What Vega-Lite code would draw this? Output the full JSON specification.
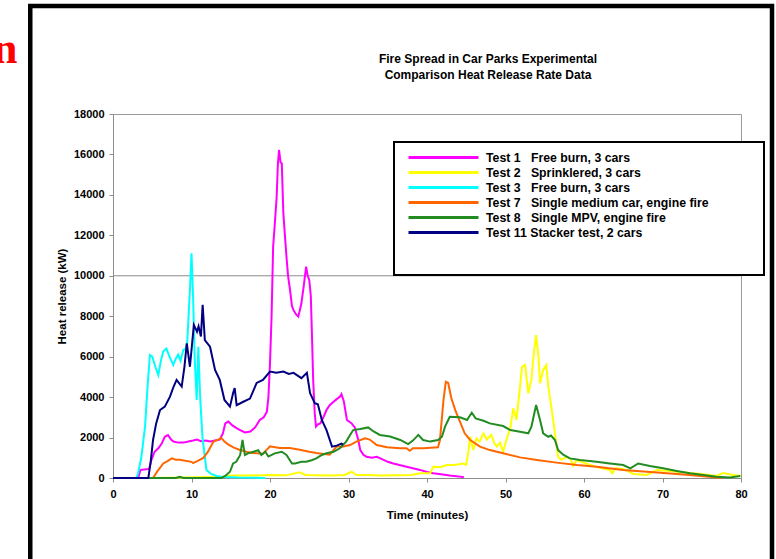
{
  "$schema": "https://vega.github.io/schema/vega-lite/v6.json",
  "width": 628,
  "height": 364,
  "autosize": {"type": "none"},
  "padding": {"left": 113, "top": 114, "right": 35, "bottom": 81},
  "background": "white",
  "config": {
    "font": "Liberation Sans",
    "view": {"stroke": "#9a9a9a", "strokeWidth": 1}
  },
  "title": {
    "text": ["Fire Spread in Car Parks Experimental", "Comparison Heat Release Rate Data"],
    "font": "Liberation Sans",
    "fontSize": 12,
    "fontWeight": "bold",
    "color": "black",
    "lineHeight": 16,
    "anchor": "middle",
    "frame": "group",
    "dx": 61,
    "offset": 0,
    "dy": 78
  },
  "datasets": {
    "hrr": [
      {"test": "Test 1", "t": 0, "v": 0}, {"test": "Test 1", "t": 3.2, "v": 0}, {"test": "Test 1", "t": 3.5, "v": 400}, {"test": "Test 1", "t": 4.6, "v": 450}, {"test": "Test 1", "t": 4.9, "v": 900}, {"test": "Test 1", "t": 5.3, "v": 1300}, {"test": "Test 1", "t": 5.8, "v": 1480}, {"test": "Test 1", "t": 6.2, "v": 1700}, {"test": "Test 1", "t": 6.6, "v": 2040}, {"test": "Test 1", "t": 7.0, "v": 2120}, {"test": "Test 1", "t": 7.4, "v": 1900}, {"test": "Test 1", "t": 7.7, "v": 1800}, {"test": "Test 1", "t": 8.3, "v": 1750}, {"test": "Test 1", "t": 9.0, "v": 1750}, {"test": "Test 1", "t": 9.6, "v": 1800}, {"test": "Test 1", "t": 10.2, "v": 1850}, {"test": "Test 1", "t": 10.7, "v": 1900}, {"test": "Test 1", "t": 11.2, "v": 1820}, {"test": "Test 1", "t": 11.8, "v": 1850}, {"test": "Test 1", "t": 12.4, "v": 1800}, {"test": "Test 1", "t": 13.0, "v": 1850}, {"test": "Test 1", "t": 13.6, "v": 1900}, {"test": "Test 1", "t": 14.0, "v": 2200}, {"test": "Test 1", "t": 14.3, "v": 2700}, {"test": "Test 1", "t": 14.7, "v": 2790}, {"test": "Test 1", "t": 15.2, "v": 2600}, {"test": "Test 1", "t": 15.8, "v": 2450}, {"test": "Test 1", "t": 16.2, "v": 2370}, {"test": "Test 1", "t": 16.8, "v": 2250}, {"test": "Test 1", "t": 17.5, "v": 2300}, {"test": "Test 1", "t": 18.1, "v": 2500}, {"test": "Test 1", "t": 18.7, "v": 2870}, {"test": "Test 1", "t": 19.2, "v": 3000}, {"test": "Test 1", "t": 19.6, "v": 3280}, {"test": "Test 1", "t": 19.8, "v": 4000}, {"test": "Test 1", "t": 20.0, "v": 5670}, {"test": "Test 1", "t": 20.2, "v": 8000}, {"test": "Test 1", "t": 20.4, "v": 11440}, {"test": "Test 1", "t": 20.6, "v": 12500}, {"test": "Test 1", "t": 20.85, "v": 13910}, {"test": "Test 1", "t": 21.0, "v": 15500}, {"test": "Test 1", "t": 21.15, "v": 16220}, {"test": "Test 1", "t": 21.35, "v": 15600}, {"test": "Test 1", "t": 21.5, "v": 15560}, {"test": "Test 1", "t": 21.7, "v": 13100}, {"test": "Test 1", "t": 21.9, "v": 12000}, {"test": "Test 1", "t": 22.1, "v": 10940}, {"test": "Test 1", "t": 22.3, "v": 10000}, {"test": "Test 1", "t": 22.55, "v": 9300}, {"test": "Test 1", "t": 22.8, "v": 8500}, {"test": "Test 1", "t": 23.0, "v": 8300}, {"test": "Test 1", "t": 23.3, "v": 8100}, {"test": "Test 1", "t": 23.6, "v": 7980}, {"test": "Test 1", "t": 23.8, "v": 8300}, {"test": "Test 1", "t": 24.0, "v": 8640}, {"test": "Test 1", "t": 24.3, "v": 9500}, {"test": "Test 1", "t": 24.6, "v": 10450}, {"test": "Test 1", "t": 24.8, "v": 10000}, {"test": "Test 1", "t": 25.0, "v": 9790}, {"test": "Test 1", "t": 25.2, "v": 9000}, {"test": "Test 1", "t": 25.35, "v": 7000}, {"test": "Test 1", "t": 25.5, "v": 4850}, {"test": "Test 1", "t": 25.7, "v": 3200}, {"test": "Test 1", "t": 25.86, "v": 2540}, {"test": "Test 1", "t": 26.1, "v": 2650}, {"test": "Test 1", "t": 26.4, "v": 2700}, {"test": "Test 1", "t": 26.8, "v": 3000}, {"test": "Test 1", "t": 27.2, "v": 3360}, {"test": "Test 1", "t": 27.6, "v": 3600}, {"test": "Test 1", "t": 28.1, "v": 3770}, {"test": "Test 1", "t": 28.5, "v": 3900}, {"test": "Test 1", "t": 28.9, "v": 4020}, {"test": "Test 1", "t": 29.1, "v": 4150}, {"test": "Test 1", "t": 29.4, "v": 3800}, {"test": "Test 1", "t": 29.8, "v": 2870}, {"test": "Test 1", "t": 30.4, "v": 2700}, {"test": "Test 1", "t": 30.8, "v": 2500}, {"test": "Test 1", "t": 31.25, "v": 1880}, {"test": "Test 1", "t": 31.5, "v": 1380}, {"test": "Test 1", "t": 31.9, "v": 1150}, {"test": "Test 1", "t": 32.3, "v": 1050}, {"test": "Test 1", "t": 33.0, "v": 1000}, {"test": "Test 1", "t": 33.6, "v": 1050}, {"test": "Test 1", "t": 34.2, "v": 950}, {"test": "Test 1", "t": 35.0, "v": 800}, {"test": "Test 1", "t": 35.7, "v": 720}, {"test": "Test 1", "t": 36.5, "v": 640}, {"test": "Test 1", "t": 37.4, "v": 560}, {"test": "Test 1", "t": 38.2, "v": 480}, {"test": "Test 1", "t": 39.1, "v": 400}, {"test": "Test 1", "t": 40.0, "v": 300}, {"test": "Test 1", "t": 40.8, "v": 230}, {"test": "Test 1", "t": 41.8, "v": 180}, {"test": "Test 1", "t": 42.9, "v": 120}, {"test": "Test 1", "t": 44.0, "v": 80}, {"test": "Test 1", "t": 44.7, "v": 40},

      {"test": "Test 2", "t": 0, "v": 0}, {"test": "Test 2", "t": 5, "v": 0}, {"test": "Test 2", "t": 9, "v": 20}, {"test": "Test 2", "t": 12, "v": 50}, {"test": "Test 2", "t": 14, "v": 60}, {"test": "Test 2", "t": 15, "v": 120}, {"test": "Test 2", "t": 17, "v": 120}, {"test": "Test 2", "t": 20, "v": 150}, {"test": "Test 2", "t": 22, "v": 130}, {"test": "Test 2", "t": 23.8, "v": 280}, {"test": "Test 2", "t": 24.5, "v": 150}, {"test": "Test 2", "t": 26, "v": 130}, {"test": "Test 2", "t": 28, "v": 120}, {"test": "Test 2", "t": 29.5, "v": 150}, {"test": "Test 2", "t": 30.4, "v": 310}, {"test": "Test 2", "t": 31, "v": 150}, {"test": "Test 2", "t": 32.5, "v": 150}, {"test": "Test 2", "t": 34, "v": 120}, {"test": "Test 2", "t": 36, "v": 130}, {"test": "Test 2", "t": 38, "v": 150}, {"test": "Test 2", "t": 39.1, "v": 230}, {"test": "Test 2", "t": 40.4, "v": 230}, {"test": "Test 2", "t": 40.8, "v": 560}, {"test": "Test 2", "t": 41.7, "v": 530}, {"test": "Test 2", "t": 42.5, "v": 640}, {"test": "Test 2", "t": 43.5, "v": 640}, {"test": "Test 2", "t": 44.6, "v": 720}, {"test": "Test 2", "t": 45.0, "v": 650}, {"test": "Test 2", "t": 45.3, "v": 1380}, {"test": "Test 2", "t": 45.5, "v": 2040}, {"test": "Test 2", "t": 45.9, "v": 1380}, {"test": "Test 2", "t": 46.3, "v": 1960}, {"test": "Test 2", "t": 46.7, "v": 1800}, {"test": "Test 2", "t": 47.2, "v": 2210}, {"test": "Test 2", "t": 47.6, "v": 1900}, {"test": "Test 2", "t": 48.2, "v": 2130}, {"test": "Test 2", "t": 48.6, "v": 1700}, {"test": "Test 2", "t": 48.9, "v": 1550}, {"test": "Test 2", "t": 49.3, "v": 1750}, {"test": "Test 2", "t": 49.7, "v": 1300}, {"test": "Test 2", "t": 50.2, "v": 2000}, {"test": "Test 2", "t": 50.6, "v": 2460}, {"test": "Test 2", "t": 51.0, "v": 3450}, {"test": "Test 2", "t": 51.4, "v": 2870}, {"test": "Test 2", "t": 51.85, "v": 4520}, {"test": "Test 2", "t": 52.1, "v": 5500}, {"test": "Test 2", "t": 52.5, "v": 5590}, {"test": "Test 2", "t": 52.9, "v": 4190}, {"test": "Test 2", "t": 53.3, "v": 4850}, {"test": "Test 2", "t": 53.6, "v": 6160}, {"test": "Test 2", "t": 53.9, "v": 7070}, {"test": "Test 2", "t": 54.2, "v": 6000}, {"test": "Test 2", "t": 54.4, "v": 4680}, {"test": "Test 2", "t": 54.8, "v": 5340}, {"test": "Test 2", "t": 55.2, "v": 5590}, {"test": "Test 2", "t": 55.45, "v": 4520}, {"test": "Test 2", "t": 55.9, "v": 3360}, {"test": "Test 2", "t": 56.3, "v": 2210}, {"test": "Test 2", "t": 56.7, "v": 1050}, {"test": "Test 2", "t": 57.1, "v": 900}, {"test": "Test 2", "t": 57.8, "v": 1050}, {"test": "Test 2", "t": 58.3, "v": 950}, {"test": "Test 2", "t": 58.6, "v": 600}, {"test": "Test 2", "t": 59.1, "v": 890}, {"test": "Test 2", "t": 60.0, "v": 750}, {"test": "Test 2", "t": 60.8, "v": 640}, {"test": "Test 2", "t": 62.0, "v": 500}, {"test": "Test 2", "t": 63.3, "v": 400}, {"test": "Test 2", "t": 63.6, "v": 230}, {"test": "Test 2", "t": 64.0, "v": 480}, {"test": "Test 2", "t": 65.0, "v": 450}, {"test": "Test 2", "t": 66.3, "v": 200}, {"test": "Test 2", "t": 68.0, "v": 150}, {"test": "Test 2", "t": 69.3, "v": 400}, {"test": "Test 2", "t": 71.0, "v": 350}, {"test": "Test 2", "t": 73.5, "v": 250}, {"test": "Test 2", "t": 75.0, "v": 200}, {"test": "Test 2", "t": 76.9, "v": 100}, {"test": "Test 2", "t": 77.7, "v": 250}, {"test": "Test 2", "t": 79.0, "v": 150}, {"test": "Test 2", "t": 80, "v": 100},

      {"test": "Test 3", "t": 0, "v": 0}, {"test": "Test 3", "t": 3.0, "v": 0}, {"test": "Test 3", "t": 3.2, "v": 250}, {"test": "Test 3", "t": 3.6, "v": 1000}, {"test": "Test 3", "t": 4.08, "v": 2540}, {"test": "Test 3", "t": 4.4, "v": 4500}, {"test": "Test 3", "t": 4.7, "v": 6080}, {"test": "Test 3", "t": 5.0, "v": 6000}, {"test": "Test 3", "t": 5.4, "v": 5500}, {"test": "Test 3", "t": 5.77, "v": 5090}, {"test": "Test 3", "t": 6.1, "v": 5800}, {"test": "Test 3", "t": 6.4, "v": 6250}, {"test": "Test 3", "t": 6.8, "v": 6400}, {"test": "Test 3", "t": 7.2, "v": 6000}, {"test": "Test 3", "t": 7.68, "v": 5590}, {"test": "Test 3", "t": 8.0, "v": 5900}, {"test": "Test 3", "t": 8.3, "v": 6100}, {"test": "Test 3", "t": 8.6, "v": 5800}, {"test": "Test 3", "t": 8.96, "v": 6330}, {"test": "Test 3", "t": 9.3, "v": 6400}, {"test": "Test 3", "t": 9.47, "v": 6820}, {"test": "Test 3", "t": 9.8, "v": 9300}, {"test": "Test 3", "t": 10.0, "v": 11110}, {"test": "Test 3", "t": 10.2, "v": 9000}, {"test": "Test 3", "t": 10.4, "v": 6000}, {"test": "Test 3", "t": 10.66, "v": 3860}, {"test": "Test 3", "t": 10.87, "v": 6490}, {"test": "Test 3", "t": 11.1, "v": 4000}, {"test": "Test 3", "t": 11.4, "v": 2000}, {"test": "Test 3", "t": 11.9, "v": 400}, {"test": "Test 3", "t": 12.5, "v": 200}, {"test": "Test 3", "t": 13.2, "v": 100}, {"test": "Test 3", "t": 14, "v": 50}, {"test": "Test 3", "t": 16, "v": 20}, {"test": "Test 3", "t": 19.4, "v": 0},

      {"test": "Test 7", "t": 0, "v": 0}, {"test": "Test 7", "t": 5.1, "v": 0}, {"test": "Test 7", "t": 5.6, "v": 300}, {"test": "Test 7", "t": 6.4, "v": 720}, {"test": "Test 7", "t": 7.0, "v": 850}, {"test": "Test 7", "t": 7.5, "v": 970}, {"test": "Test 7", "t": 8.0, "v": 900}, {"test": "Test 7", "t": 8.5, "v": 900}, {"test": "Test 7", "t": 9.2, "v": 850}, {"test": "Test 7", "t": 10.0, "v": 800}, {"test": "Test 7", "t": 10.2, "v": 740}, {"test": "Test 7", "t": 10.8, "v": 850}, {"test": "Test 7", "t": 11.5, "v": 990}, {"test": "Test 7", "t": 12.1, "v": 1300}, {"test": "Test 7", "t": 12.8, "v": 1800}, {"test": "Test 7", "t": 13.4, "v": 1900}, {"test": "Test 7", "t": 13.8, "v": 1980}, {"test": "Test 7", "t": 14.2, "v": 1800}, {"test": "Test 7", "t": 14.7, "v": 1650}, {"test": "Test 7", "t": 15.4, "v": 1500}, {"test": "Test 7", "t": 16.1, "v": 1400}, {"test": "Test 7", "t": 17.0, "v": 1300}, {"test": "Test 7", "t": 17.8, "v": 1240}, {"test": "Test 7", "t": 19.1, "v": 1200}, {"test": "Test 7", "t": 19.6, "v": 1400}, {"test": "Test 7", "t": 20.0, "v": 1570}, {"test": "Test 7", "t": 21.2, "v": 1480}, {"test": "Test 7", "t": 22.5, "v": 1480}, {"test": "Test 7", "t": 23.8, "v": 1400}, {"test": "Test 7", "t": 25.0, "v": 1300}, {"test": "Test 7", "t": 25.9, "v": 1240}, {"test": "Test 7", "t": 27.6, "v": 1150}, {"test": "Test 7", "t": 28.5, "v": 1570}, {"test": "Test 7", "t": 29.2, "v": 1550}, {"test": "Test 7", "t": 30.2, "v": 1630}, {"test": "Test 7", "t": 31.0, "v": 1800}, {"test": "Test 7", "t": 32.1, "v": 1960}, {"test": "Test 7", "t": 32.7, "v": 1900}, {"test": "Test 7", "t": 33.6, "v": 1630}, {"test": "Test 7", "t": 34.9, "v": 1520}, {"test": "Test 7", "t": 36.5, "v": 1470}, {"test": "Test 7", "t": 37.4, "v": 1470}, {"test": "Test 7", "t": 37.8, "v": 1350}, {"test": "Test 7", "t": 38.2, "v": 1470}, {"test": "Test 7", "t": 39.5, "v": 1470}, {"test": "Test 7", "t": 41.4, "v": 1520}, {"test": "Test 7", "t": 41.65, "v": 1880}, {"test": "Test 7", "t": 42.1, "v": 3860}, {"test": "Test 7", "t": 42.4, "v": 4760}, {"test": "Test 7", "t": 42.7, "v": 4700}, {"test": "Test 7", "t": 43.1, "v": 3940}, {"test": "Test 7", "t": 43.6, "v": 3360}, {"test": "Test 7", "t": 44.2, "v": 2790}, {"test": "Test 7", "t": 44.8, "v": 2210}, {"test": "Test 7", "t": 45.5, "v": 1880}, {"test": "Test 7", "t": 46.75, "v": 1550}, {"test": "Test 7", "t": 48.0, "v": 1380}, {"test": "Test 7", "t": 49.7, "v": 1220}, {"test": "Test 7", "t": 51.85, "v": 1020}, {"test": "Test 7", "t": 54.0, "v": 890}, {"test": "Test 7", "t": 56.5, "v": 760}, {"test": "Test 7", "t": 59.1, "v": 640}, {"test": "Test 7", "t": 61.6, "v": 560}, {"test": "Test 7", "t": 65.0, "v": 400}, {"test": "Test 7", "t": 69.3, "v": 270}, {"test": "Test 7", "t": 73.5, "v": 150}, {"test": "Test 7", "t": 76.5, "v": 40}, {"test": "Test 7", "t": 77.5, "v": 0},

      {"test": "Test 8", "t": 0, "v": 0}, {"test": "Test 8", "t": 8, "v": 0}, {"test": "Test 8", "t": 8.5, "v": 60}, {"test": "Test 8", "t": 9, "v": 0}, {"test": "Test 8", "t": 13.8, "v": 0}, {"test": "Test 8", "t": 14.3, "v": 100}, {"test": "Test 8", "t": 14.9, "v": 310}, {"test": "Test 8", "t": 15.3, "v": 720}, {"test": "Test 8", "t": 15.7, "v": 800}, {"test": "Test 8", "t": 16.2, "v": 1140}, {"test": "Test 8", "t": 16.5, "v": 1880}, {"test": "Test 8", "t": 16.8, "v": 1140}, {"test": "Test 8", "t": 17.2, "v": 1220}, {"test": "Test 8", "t": 17.9, "v": 1300}, {"test": "Test 8", "t": 18.5, "v": 1380}, {"test": "Test 8", "t": 18.9, "v": 1140}, {"test": "Test 8", "t": 19.4, "v": 1300}, {"test": "Test 8", "t": 19.8, "v": 1060}, {"test": "Test 8", "t": 20.6, "v": 1220}, {"test": "Test 8", "t": 21.5, "v": 1300}, {"test": "Test 8", "t": 22.1, "v": 1140}, {"test": "Test 8", "t": 22.8, "v": 720}, {"test": "Test 8", "t": 23.2, "v": 720}, {"test": "Test 8", "t": 24.0, "v": 800}, {"test": "Test 8", "t": 24.6, "v": 800}, {"test": "Test 8", "t": 25.3, "v": 880}, {"test": "Test 8", "t": 25.9, "v": 970}, {"test": "Test 8", "t": 26.6, "v": 1140}, {"test": "Test 8", "t": 27.2, "v": 1220}, {"test": "Test 8", "t": 28.1, "v": 1300}, {"test": "Test 8", "t": 28.9, "v": 1470}, {"test": "Test 8", "t": 29.7, "v": 1800}, {"test": "Test 8", "t": 30.2, "v": 2130}, {"test": "Test 8", "t": 30.6, "v": 2370}, {"test": "Test 8", "t": 31.5, "v": 2420}, {"test": "Test 8", "t": 32.5, "v": 2500}, {"test": "Test 8", "t": 33.2, "v": 2300}, {"test": "Test 8", "t": 34.0, "v": 2130}, {"test": "Test 8", "t": 35.3, "v": 2050}, {"test": "Test 8", "t": 36.6, "v": 1880}, {"test": "Test 8", "t": 37.6, "v": 1680}, {"test": "Test 8", "t": 38.2, "v": 1850}, {"test": "Test 8", "t": 38.9, "v": 2130}, {"test": "Test 8", "t": 39.5, "v": 1880}, {"test": "Test 8", "t": 40.4, "v": 1800}, {"test": "Test 8", "t": 41.4, "v": 1880}, {"test": "Test 8", "t": 41.9, "v": 2040}, {"test": "Test 8", "t": 42.3, "v": 2540}, {"test": "Test 8", "t": 42.9, "v": 3030}, {"test": "Test 8", "t": 44.2, "v": 3000}, {"test": "Test 8", "t": 45.1, "v": 2870}, {"test": "Test 8", "t": 45.7, "v": 3230}, {"test": "Test 8", "t": 46.2, "v": 2950}, {"test": "Test 8", "t": 47.2, "v": 2830}, {"test": "Test 8", "t": 48.0, "v": 2700}, {"test": "Test 8", "t": 49.7, "v": 2570}, {"test": "Test 8", "t": 50.6, "v": 2370}, {"test": "Test 8", "t": 51.85, "v": 2290}, {"test": "Test 8", "t": 52.9, "v": 2210}, {"test": "Test 8", "t": 53.3, "v": 2540}, {"test": "Test 8", "t": 53.9, "v": 3610}, {"test": "Test 8", "t": 54.4, "v": 2870}, {"test": "Test 8", "t": 54.8, "v": 2210}, {"test": "Test 8", "t": 55.45, "v": 2040}, {"test": "Test 8", "t": 55.8, "v": 2100}, {"test": "Test 8", "t": 56.3, "v": 1880}, {"test": "Test 8", "t": 56.7, "v": 1380}, {"test": "Test 8", "t": 57.4, "v": 1140}, {"test": "Test 8", "t": 58.2, "v": 970}, {"test": "Test 8", "t": 59.5, "v": 890}, {"test": "Test 8", "t": 61.6, "v": 800}, {"test": "Test 8", "t": 63.3, "v": 720}, {"test": "Test 8", "t": 65.0, "v": 640}, {"test": "Test 8", "t": 65.9, "v": 480}, {"test": "Test 8", "t": 66.9, "v": 720}, {"test": "Test 8", "t": 68.4, "v": 590}, {"test": "Test 8", "t": 70.1, "v": 480}, {"test": "Test 8", "t": 71.8, "v": 350}, {"test": "Test 8", "t": 73.5, "v": 230}, {"test": "Test 8", "t": 75.2, "v": 150}, {"test": "Test 8", "t": 76.9, "v": 60}, {"test": "Test 8", "t": 78.6, "v": 30}, {"test": "Test 8", "t": 79.9, "v": 100},

      {"test": "Test 11", "t": 0, "v": 0}, {"test": "Test 11", "t": 4.5, "v": 0}, {"test": "Test 11", "t": 4.8, "v": 800}, {"test": "Test 11", "t": 5.1, "v": 1880}, {"test": "Test 11", "t": 5.5, "v": 2700}, {"test": "Test 11", "t": 5.99, "v": 3360}, {"test": "Test 11", "t": 6.6, "v": 3530}, {"test": "Test 11", "t": 7.26, "v": 4020}, {"test": "Test 11", "t": 7.7, "v": 4500}, {"test": "Test 11", "t": 8.1, "v": 4850}, {"test": "Test 11", "t": 8.75, "v": 4520}, {"test": "Test 11", "t": 9.1, "v": 5500}, {"test": "Test 11", "t": 9.4, "v": 6660}, {"test": "Test 11", "t": 9.8, "v": 5500}, {"test": "Test 11", "t": 10.3, "v": 7570}, {"test": "Test 11", "t": 10.7, "v": 7240}, {"test": "Test 11", "t": 10.9, "v": 7500}, {"test": "Test 11", "t": 11.2, "v": 7000}, {"test": "Test 11", "t": 11.42, "v": 8560}, {"test": "Test 11", "t": 11.7, "v": 6820}, {"test": "Test 11", "t": 12.36, "v": 6490}, {"test": "Test 11", "t": 13.0, "v": 5340}, {"test": "Test 11", "t": 13.6, "v": 4850}, {"test": "Test 11", "t": 14.2, "v": 3860}, {"test": "Test 11", "t": 14.9, "v": 3530}, {"test": "Test 11", "t": 15.3, "v": 4200}, {"test": "Test 11", "t": 15.5, "v": 4450}, {"test": "Test 11", "t": 15.75, "v": 3600}, {"test": "Test 11", "t": 16.6, "v": 3770}, {"test": "Test 11", "t": 17.45, "v": 3930}, {"test": "Test 11", "t": 18.3, "v": 4700}, {"test": "Test 11", "t": 19.1, "v": 4850}, {"test": "Test 11", "t": 20.0, "v": 5260}, {"test": "Test 11", "t": 20.8, "v": 5200}, {"test": "Test 11", "t": 21.7, "v": 5260}, {"test": "Test 11", "t": 22.4, "v": 5150}, {"test": "Test 11", "t": 23.0, "v": 5200}, {"test": "Test 11", "t": 24.0, "v": 4940}, {"test": "Test 11", "t": 24.7, "v": 5200}, {"test": "Test 11", "t": 25.1, "v": 4200}, {"test": "Test 11", "t": 25.7, "v": 3700}, {"test": "Test 11", "t": 26.1, "v": 3650}, {"test": "Test 11", "t": 26.6, "v": 2870}, {"test": "Test 11", "t": 27.2, "v": 2370}, {"test": "Test 11", "t": 27.9, "v": 1550}, {"test": "Test 11", "t": 28.5, "v": 1600}, {"test": "Test 11", "t": 29.1, "v": 1700}, {"test": "Test 11", "t": 29.3, "v": 1650}
    ]
  },
  "layer": [
    {
      "data": {"values": [{"v": 10000}]},
      "mark": {"type": "rule", "color": "#8c8c8c", "strokeWidth": 1},
      "encoding": {
        "y": {"field": "v", "type": "quantitative", "scale": {"domain": [0, 18000], "nice": false}}
      }
    },
    {
      "data": {"name": "hrr"},
      "mark": {"type": "line", "strokeWidth": 2},
      "encoding": {
        "x": {
          "field": "t", "type": "quantitative",
          "scale": {"domain": [0, 80], "nice": false},
          "axis": {
            "title": "Time (minutes)", "values": [0, 10, 20, 30, 40, 50, 60, 70, 80],
            "grid": false, "labelFont": "Liberation Sans", "labelFontSize": 11, "labelFontWeight": "bold", "labelColor": "black",
            "titleFont": "Liberation Sans", "titleFontSize": 11.5, "titleFontWeight": "bold", "titleColor": "black",
            "domainColor": "#8c8c8c", "tickColor": "#8c8c8c", "tickSize": 4, "labelPadding": 6, "titlePadding": 10, "labelFlush": false
          }
        },
        "y": {
          "field": "v", "type": "quantitative",
          "scale": {"domain": [0, 18000], "nice": false},
          "axis": {
            "title": "Heat release (kW)", "values": [0, 2000, 4000, 6000, 8000, 10000, 12000, 14000, 16000, 18000],
            "format": "d", "grid": false, "labelFont": "Liberation Sans", "labelFontSize": 11, "labelFontWeight": "bold", "labelColor": "black",
            "titleFont": "Liberation Sans", "titleFontSize": 11.5, "titleFontWeight": "bold", "titleColor": "black",
            "domainColor": "#8c8c8c", "tickColor": "#8c8c8c", "tickSize": 4, "labelPadding": 5, "titlePadding": 6
          }
        },
        "color": {
          "field": "test", "type": "nominal",
          "scale": {
            "domain": ["Test 1", "Test 2", "Test 3", "Test 7", "Test 8", "Test 11"],
            "range": ["#ff00ff", "#ffff00", "#00ffff", "#ff6600", "#228b22", "#000080"]
          },
          "legend": {
            "orient": "none", "legendX": 281, "legendY": 28,
            "title": "\u00a0",
            "titleOrient": "right", "titleAnchor": "start", "titleBaseline": "top", "titleFontSize": 120, "titlePadding": 48,
            "symbolType": "M-5,0H5", "symbolSize": 196, "symbolStrokeWidth": 3, "symbolOffset": 34,
            "labelOffset": 34, "rowPadding": 0,
            "labelFont": "Liberation Sans", "labelFontSize": 12.3, "labelFontWeight": "bold", "labelColor": "black", "labelLimit": 500,
            "labelExpr": "datum.label == 'Test 1' ? 'Test 1\u00a0\u00a0\u00a0Free burn, 3 cars' : datum.label == 'Test 2' ? 'Test 2\u00a0\u00a0\u00a0Sprinklered, 3 cars' : datum.label == 'Test 3' ? 'Test 3\u00a0\u00a0\u00a0Free burn, 3 cars' : datum.label == 'Test 7' ? 'Test 7\u00a0\u00a0\u00a0Single medium car, engine fire' : datum.label == 'Test 8' ? 'Test 8\u00a0\u00a0\u00a0Single MPV, engine fire' : 'Test 11 Stacker test, 2 cars'",
            "fillColor": "white", "strokeColor": "black", "padding": 7,
            "encode": {"legend": {"update": {"strokeWidth": {"value": 2}}}}
          }
        }
      }
    },
    {
      "data": {"values": [{"label": "n"}]},
      "mark": {"type": "text", "font": "Liberation Serif", "fontWeight": "bold", "fontSize": 44, "color": "#ff0000", "align": "right", "baseline": "alphabetic"},
      "encoding": {
        "x": {"datum": -12.17, "type": "quantitative", "scale": {"domain": [0, 80], "nice": false}},
        "y": {"datum": 20520, "type": "quantitative", "scale": {"domain": [0, 18000], "nice": false}},
        "text": {"field": "label"}
      }
    },
    {
      "data": {"values": [{"frame": "page"}]},
      "mark": {"type": "rect", "fillOpacity": 0, "stroke": "black", "strokeWidth": 4.5},
      "encoding": {
        "x": {"datum": -10.54, "type": "quantitative", "scale": {"domain": [0, 80], "nice": false}},
        "x2": {"datum": 83.95},
        "y": {"datum": 23340, "type": "quantitative", "scale": {"domain": [0, 18000], "nice": false}},
        "y2": {"datum": -6000}
      }
    }
  ]
}
